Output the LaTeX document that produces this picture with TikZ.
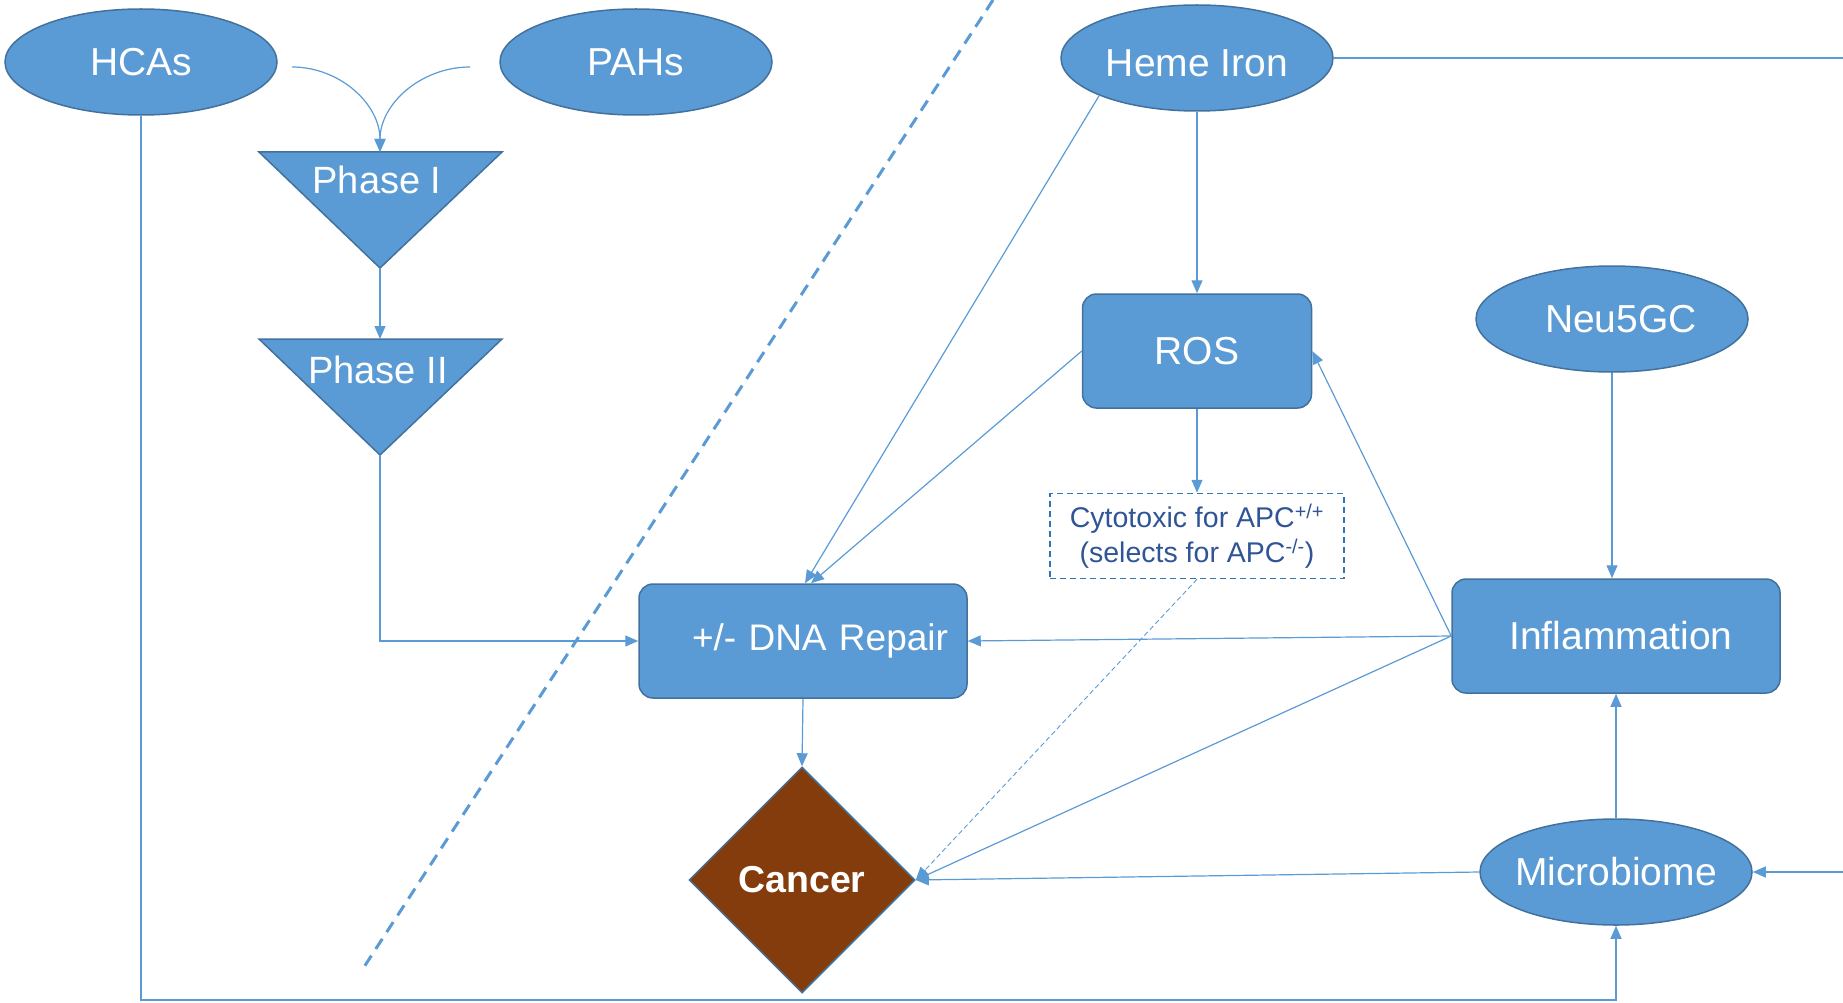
\documentclass[tikz,border=0pt]{standalone}
\usepackage{fontspec}
\setmainfont{Liberation Sans}
\usetikzlibrary{shapes.geometric,arrows.meta}
\definecolor{boxblue}{HTML}{5B9BD5}
\definecolor{rimblue}{HTML}{41719C}
\definecolor{dashblue}{HTML}{2E75B6}
\definecolor{textblue}{HTML}{2F5597}
\definecolor{cancerbrown}{HTML}{843C0C}

\begin{document}
\begin{tikzpicture}[x=1pt,y=-1pt,
  blob/.style={ellipse,draw=rimblue,fill=boxblue,line width=1.5pt,inner sep=0pt,minimum width=272pt,minimum height=106pt,text=white,font=\fontsize{39}{44}\selectfont},
  rbox/.style={rectangle,rounded corners=14pt,draw=rimblue,fill=boxblue,line width=1.5pt,minimum height=114pt,text=white,font=\fontsize{39}{44}\selectfont},
  tri/.style={draw=rimblue,fill=boxblue,line width=1.5pt},
  link/.style={draw=boxblue,line width=1.2pt,-{Triangle[length=13pt,width=11pt]}}]
\useasboundingbox (0,0) rectangle (1843,1003);
  \node[blob] (hca) at (141,62) {HCAs};
  \node[blob] (pah) at (636,62) {PAHs};
  \node[blob,text height=38pt,text depth=0pt] (heme) at (1197,58) {Heme Iron};
  \node[blob] (neu) at (1612,319) {\hspace*{18pt}Neu5GC};
  \node[blob] (micro) at (1616,872) {\makebox[0pt]{Microbiome}};
  \node[rbox,minimum width=229pt] (ros) at (1197,351) {ROS};
  \node[rbox,minimum width=328pt,text width=290pt,align=right,inner xsep=19pt,font=\fontsize{37}{42}\selectfont] (dna) at (803,641) {+/- DNA Repair};
  \node[rbox,minimum width=328pt] (infl) at (1616,636) {\hspace*{10pt}Inflammation};
  \node[draw=dashblue,dash pattern=on 6pt off 4pt,line width=1.5pt,minimum width=294pt,minimum height=85pt,inner sep=0pt,align=center,text=textblue,font=\fontsize{28.5}{35}\selectfont] (cyto) at (1197,536) {Cytotoxic for APC\textsuperscript{+/+}\\(selects for APC\textsuperscript{-/-})};
  \node[diamond,shape aspect=1,minimum size=226pt,inner sep=0pt,draw=rimblue,fill=cancerbrown,line width=1.5pt,text=white,font=\fontsize{37.5}{42}\selectfont\bfseries] (cancer) at (802,880) {Cancer};

  % phase triangles
  \coordinate (p1top) at (380,152); \coordinate (p1tip) at (380,268);
  \coordinate (p2top) at (380,339); \coordinate (p2tip) at (380,455);
  \draw[tri] (259,152) -- (502,152) -- (p1tip) -- cycle;
  \draw[tri] (259,339) -- (502,339) -- (p2tip) -- cycle;
  \node[text=white,font=\fontsize{38}{42}\selectfont] (ph1) at (377,180) {Phase I};
  \node[text=white,font=\fontsize{38}{42}\selectfont] (ph2) at (378,370) {Phase II};

  % divider
  \coordinate (divtop) at (993,0); \coordinate (divbot) at (364,967);
  \draw[boxblue,line width=3pt,dash pattern=on 12pt off 8pt] (divtop) -- (divbot);

  \coordinate (hcaout) at (292,67); \coordinate (pahout) at (470,67);
  \draw[link] (hcaout) to[out=0,in=90] (p1top);
  \draw[link] (pahout) to[out=180,in=90] (p1top);
  \draw[link] (p1tip) -- (p2top);
  \draw[link] (p2tip) |- (dna.west);
  \coordinate (hcabend) at (1616,1000);
  \draw[link] (hca.south) |- (hcabend) -- (micro.south);
  \coordinate (hemeout) at (1860,58);
  \draw[link] (heme.east) -- (hemeout) |- (micro.east);
  \draw[link] (heme.south) -- (ros.north);
  \draw[link] (heme.201) -- ([xshift=2pt]dna.north);
  \draw[link] (ros.west) -- ([xshift=8pt]dna.north);
  \draw[link] (ros.south) -- (cyto.north);
  \draw[link,dash pattern=on 5pt off 3pt,line width=0.9pt] (cyto.south) -- (cancer.east);
  \draw[link] (infl.west) -- (ros.east);
  \draw[link] (infl.west) -- (dna.east);
  \draw[link] (infl.west) -- (cancer.east);
  \draw[link] (neu.south) -- (neu.south |- infl.north);
  \draw[link] (micro.north) -- (infl.south);
  \draw[link] (micro.west) -- (cancer.east);
  \draw[link] (dna.south) -- (cancer.north);
\end{tikzpicture}
\end{document}
